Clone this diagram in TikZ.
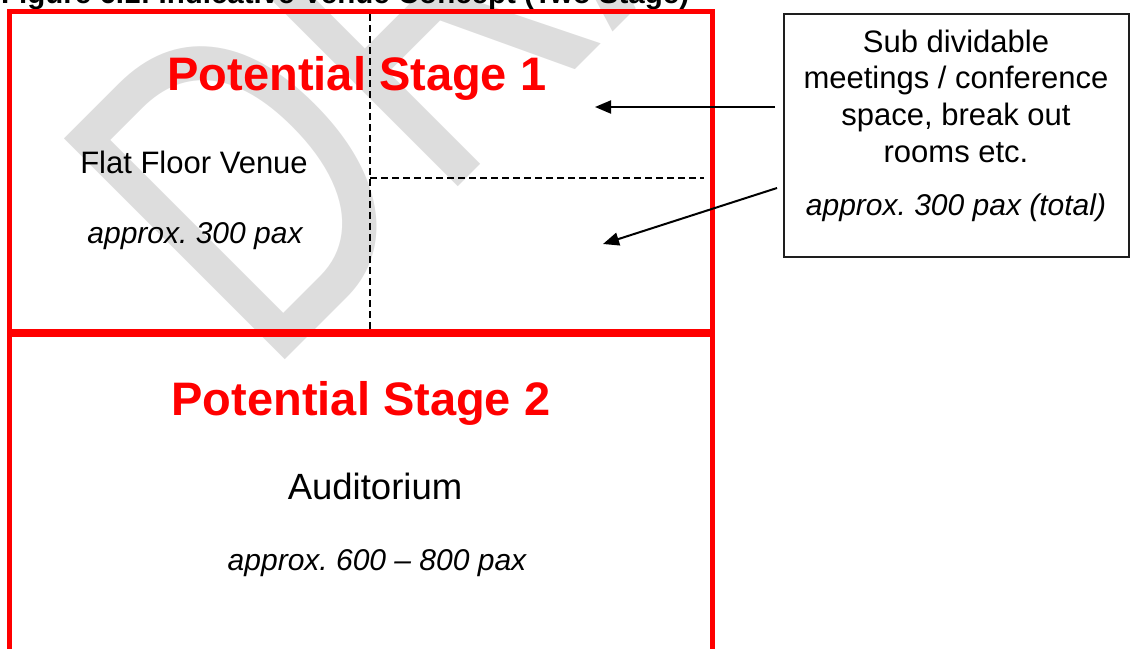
\documentclass[tikz,border=0pt]{standalone}
\usepackage{fontspec}
\setmainfont{Liberation Sans}
\usetikzlibrary{arrows.meta}
\definecolor{stagered}{RGB}{255,0,0}
\definecolor{draftgray}{RGB}{221,221,221}
\definecolor{boxline}{RGB}{30,30,30}
\newcommand{\fsize}[1]{\fontsize{#1}{#1}\selectfont}
\frenchspacing

\begin{document}
\begin{tikzpicture}[x=1pt, y=-1pt, >={Triangle[length=16pt, width=13pt]},
  stagelabel/.style={text=stagered, font=\fsize{47}\bfseries, inner sep=0, anchor=base},
  plainlabel/.style={font=\fsize{31}, inner sep=0, anchor=base},
  paxlabel/.style={font=\fsize{30}\itshape, inner sep=0, anchor=base},
  divider/.style={line width=1.5pt, dash pattern=on 7pt off 4pt},
  pointer/.style={->, line width=2pt}]
  \useasboundingbox (0,0) rectangle (1132,648);

  % Watermark
  \node[text=draftgray, font=\fsize{454}, rotate=45, xscale=0.75, anchor=base west, inner sep=0] (draft) at (265,380) {DRAFT};

  % Title (cut off at the top)
  \node[font=\fsize{29.5}\bfseries, anchor=base west, inner sep=0] (title) at (1,3) {Figure 6.1: Indicative Venue Concept (Two Stage)};

  % Room dividers
  \coordinate (vtop) at (370,14);
  \coordinate (vbot) at (370,330);
  \coordinate (hleft) at (370,178);
  \coordinate (hright) at (704,178);
  \draw[divider] (vtop) -- (vbot);
  \draw[divider] (hleft) -- (hright);

  % Venue outline
  \draw[stagered, line width=5pt] (9.5,660) -- (9.5,11) -- (712,11) -- (712,660);
  \draw[stagered, line width=8pt] (9.5,333) -- (712,333);

  % Stage 1
  \node[stagelabel] (stage1) at (357,90) {Potential Stage 1};
  \node[plainlabel] (flat) at (194,173) {Flat Floor Venue};
  \node[paxlabel] (flatpax) at (195,243) {approx. 300 pax};

  % Stage 2
  \node[stagelabel] (stage2) at (361,415) {Potential Stage 2};
  \node[plainlabel, font=\fsize{36.5}] (audi) at (375,499) {Auditorium};
  \node[paxlabel] (audipax) at (377,570) {approx. 600 -- 800 pax};

  % Meeting rooms note
  \node[draw=boxline, line width=2pt, minimum width=345pt, minimum height=243pt,
        anchor=north west, inner sep=0] (note) at (783,13) {};
  \node[plainlabel] (line1) at (956,52) {Sub dividable};
  \node[plainlabel] (line2) at (956,88) {meetings / conference};
  \node[plainlabel] (line3) at (956,125) {space, break out};
  \node[plainlabel] (line4) at (956,162) {rooms etc.};
  \node[paxlabel] (notepax) at (956,215) {approx. 300 pax (total)};

  % Pointers into the rooms
  \coordinate (from1) at (775,107);
  \coordinate (from2) at (777,188);
  \coordinate (tip1) at (595,107);
  \coordinate (tip2) at (603,244);
  \draw[pointer] (from1) -- (tip1);
  \draw[pointer] (from2) -- (tip2);
\end{tikzpicture}
\end{document}
